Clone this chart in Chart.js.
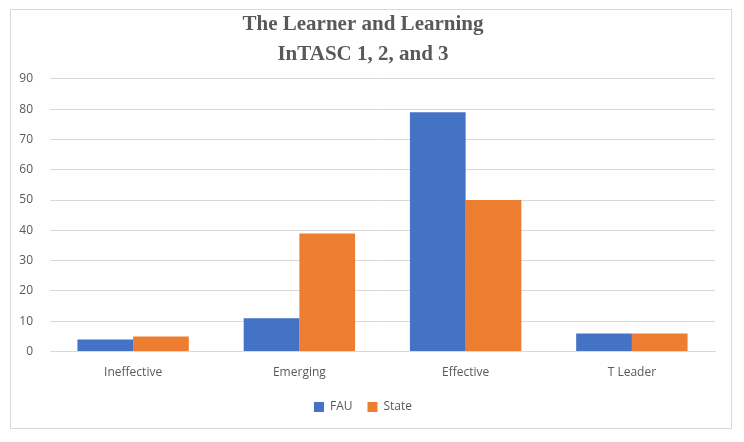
<!DOCTYPE html>
<html>
<head>
<meta charset="utf-8">
<script src="https://cdn.jsdelivr.net/npm/chart.js"></script>
<style>
  html, body { margin: 0; padding: 0; background: #fff; }
  #box {
    position: absolute; left: 10px; top: 9px;
    width: 722px; height: 420px;
    border: 1px solid #d9d9d9; box-sizing: border-box;
  }
</style>
</head>
<body>
<div id="box"><canvas id="grafico"></canvas></div>
<script>
// datos
const categorias = ["Ineffective", "Emerging", "Effective", "T Leader"]
const valoresFAU = [4, 11, 79, 6]
const valoresState = [5, 39, 50, 6]
const titulo = ["The Learner and Learning", "InTASC 1, 2, and 3"]

const gris = "#595959"
const fuente = "'Open Sans', 'Liberation Sans', sans-serif"

let fau = {
    label: "FAU",
    data: valoresFAU,
    backgroundColor: "#4472C4",
    categoryPercentage: 0.67,
    barPercentage: 1.0
}

let state = {
    label: "State",
    data: valoresState,
    backgroundColor: "#ED7D31",
    categoryPercentage: 0.67,
    barPercentage: 1.0
}

new Chart(document.getElementById("grafico"), {
    type: "bar",
    data: {
        labels: categorias,
        datasets: [fau, state]
    },
    options: {
        responsive: true,
        maintainAspectRatio: false,
        animation: false,
        layout: { padding: { left: 0, right: 16, top: 0, bottom: 5 } },
        plugins: {
            title: {
                display: true,
                text: titulo,
                color: gris,
                font: { family: "'Liberation Serif', 'DejaVu Serif', serif", size: 21, weight: "bold", lineHeight: 1.4 },
                padding: { top: 0, bottom: 10 }
            },
            legend: {
                position: "bottom",
                labels: {
                    color: gris,
                    font: { family: fuente, size: 12 },
                    boxWidth: 10,
                    boxHeight: 10,
                    padding: 15
                }
            },
            tooltip: { enabled: false }
        },
        scales: {
            x: {
                grid: { display: false },
                border: { color: "#d9d9d9" },
                ticks: { color: gris, font: { family: fuente, size: 12 }, padding: 6 }
            },
            y: {
                min: 0,
                max: 90,
                ticks: { stepSize: 10, color: gris, font: { family: fuente, size: 12 }, padding: 17 },
                grid: { color: "#d9d9d9", drawTicks: false },
                border: { display: false },
                afterFit: (escala) => { escala.width = 39 }
            }
        }
    }
})
</script>
</body>
</html>
